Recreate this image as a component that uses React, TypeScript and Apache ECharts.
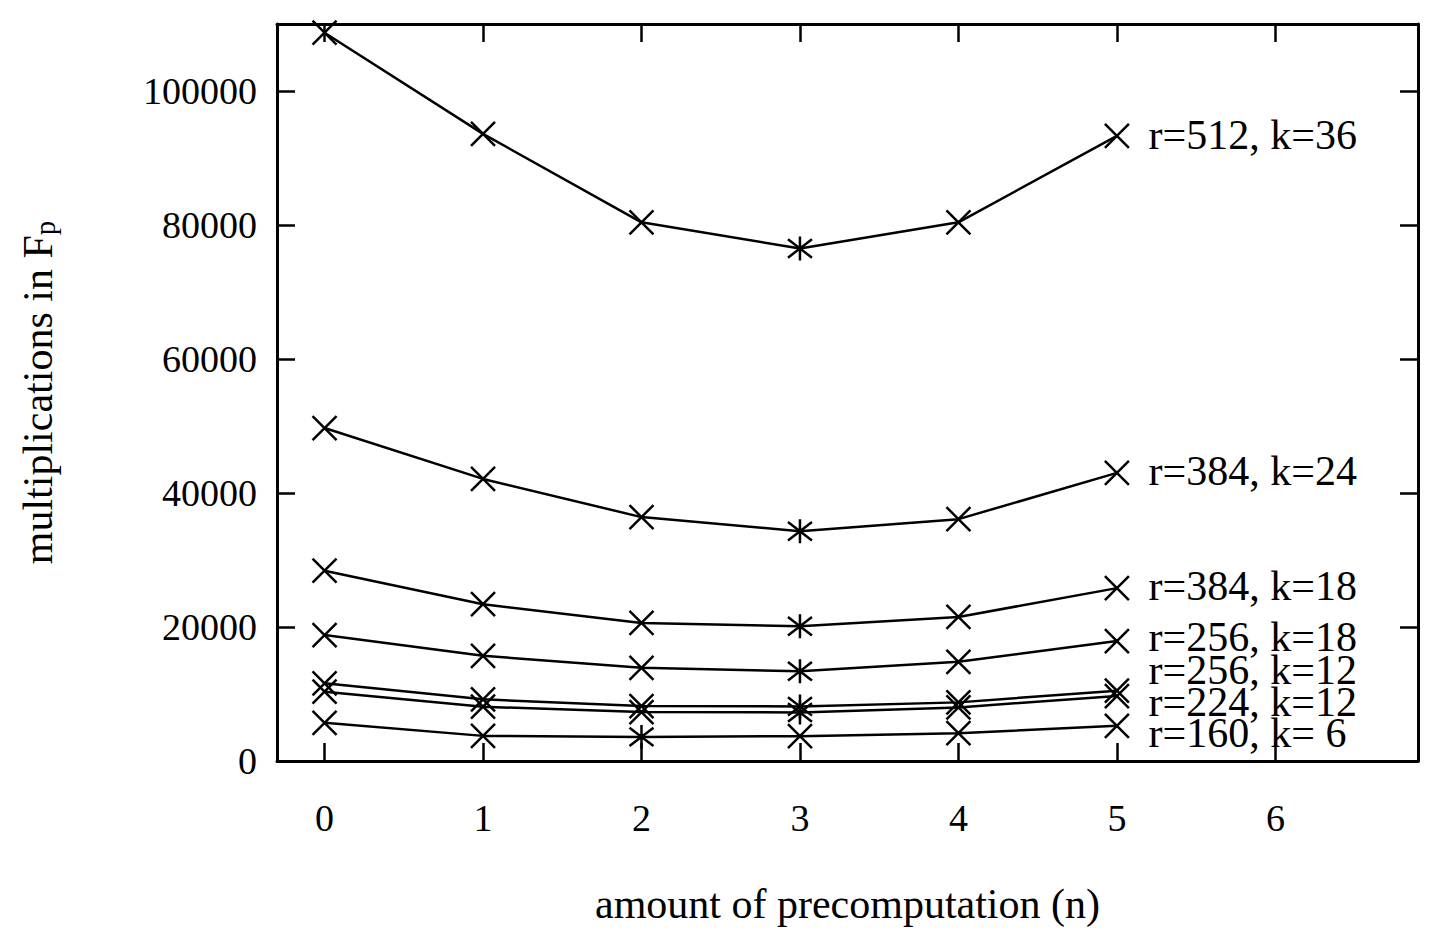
import React, { useEffect, useRef } from "react";
import * as echarts from "echarts";

const nValues = [0, 1, 2, 3, 4, 5];
const xTicks = [0, 1, 2, 3, 4, 5, 6];
const yTicks = [0, 20000, 40000, 60000, 80000, 100000];

const seriesNames = [
  "r=512, k=36",
  "r=384, k=24",
  "r=384, k=18",
  "r=256, k=18",
  "r=256, k=12",
  "r=224, k=12",
  "r=160, k= 6",
];
const r512k36 = [108700, 93600, 80400, 76500, 80400, 93300];
const r384k24 = [49700, 42100, 36400, 34300, 36100, 43000];
const r384k18 = [28400, 23400, 20600, 20100, 21500, 25800];
const r256k18 = [18800, 15700, 13900, 13400, 14800, 17900];
const r256k12 = [11600, 9200, 8200, 8150, 8750, 10500];
const r224k12 = [10350, 8100, 7300, 7250, 8000, 9700];
const r160k6 = [5700, 3750, 3600, 3700, 4150, 5250];
const allSeries = [r512k36, r384k24, r384k18, r256k18, r256k12, r224k12, r160k6];

// label anchor positions (layout, in data units)
const labelX = 5.2;
const labelY = [93400, 43300, 26100, 18500, 13600, 8800, 4200];

const FONT = "'Liberation Serif', 'Times New Roman', serif";
const FS = 38;
const FS_BIG = 42;
const CROSS = "path://M0,0L10,10M10,0L0,10";
const STAR = "path://M0,0L10,10M10,0L0,10M5,-1.5L5,11.5";

export default function App() {
  const ref = useRef<HTMLDivElement>(null);
  useEffect(() => {
    if (!ref.current) return;
    const chart = echarts.init(ref.current, null, { renderer: "svg" });
    const axisLine = { show: true, onZero: false, lineStyle: { color: "#000", width: 3 } };
    const tick = { show: true, inside: true, length: 18, lineStyle: { color: "#000", width: 2.5 } };
    const series = allSeries.map((vals, si) => {
      const minIdx = vals.indexOf(Math.min(...vals));
      return {
        type: "line",
        name: seriesNames[si],
        data: vals.map((v, i) => [nValues[i], v]),
        symbol: (_v: any, p: any) => (p.dataIndex === minIdx ? STAR : CROSS),
        symbolSize: 24,
        showAllSymbol: true,
        lineStyle: { color: "#000", width: 2.5 },
        itemStyle: { color: "#000", borderColor: "#000", borderWidth: 2.5 },
        z: 3,
      };
    });
    const option: any = {
      animation: false,
      backgroundColor: "#fff",
      grid: { left: 277, right: 16, top: 24, bottom: 175, containLabel: false },
      xAxis: [
        {
          type: "value",
          min: -0.3,
          max: 6.9,
          position: "bottom",
          axisLine,
          axisTick: { ...tick, customValues: xTicks },
          axisLabel: {
            customValues: xTicks,
            margin: 38,
            color: "#000",
            fontFamily: FONT,
            fontSize: FS,
            formatter: (v: number) => String(v),
          },
          splitLine: { show: false },
          name: "amount of precomputation (n)",
          nameLocation: "middle",
          nameGap: 122,
          nameTextStyle: { color: "#000", fontFamily: FONT, fontSize: FS_BIG },
        },
        {
          type: "value",
          min: -0.3,
          max: 6.9,
          position: "top",
          axisLine,
          axisTick: { ...tick, customValues: xTicks },
          axisLabel: { show: false },
          splitLine: { show: false },
        },
      ],
      yAxis: [
        {
          type: "value",
          min: 0,
          max: 110000,
          position: "left",
          axisLine,
          axisTick: { ...tick, customValues: yTicks },
          axisLabel: {
            customValues: yTicks,
            margin: 20,
            color: "#000",
            fontFamily: FONT,
            fontSize: FS,
            formatter: (v: number) => String(v),
          },
          splitLine: { show: false },
          name: "{a|multiplications in F}{sub|p}",
          nameLocation: "middle",
          nameGap: 218,
          nameTextStyle: {
            color: "#000",
            fontFamily: FONT,
            fontSize: FS_BIG,
            rich: {
              a: { fontFamily: FONT, fontSize: FS_BIG, color: "#000", verticalAlign: "bottom", lineHeight: 46 },
              sub: { fontFamily: FONT, fontSize: 29, color: "#000", verticalAlign: "bottom", lineHeight: 38 },
            },
          },
        },
        {
          type: "value",
          min: 0,
          max: 110000,
          position: "right",
          axisLine,
          axisTick: { ...tick, customValues: yTicks },
          axisLabel: { show: false },
          splitLine: { show: false },
        },
      ],
      series,
    };
    chart.setOption(option);
    const graphics = seriesNames.map((t, i) => {
      const [px, py] = chart.convertToPixel({ seriesIndex: 0 }, [labelX, labelY[i]]);
      return {
        type: "text",
        x: px,
        y: py,
        z: 10,
        style: {
          text: t,
          fill: "#000",
          fontFamily: FONT,
          fontSize: FS_BIG,
          lineHeight: 30,
          align: "left",
          verticalAlign: "middle",
        },
      };
    });
    chart.setOption({ graphic: graphics });
    return () => chart.dispose();
  }, []);
  return (
    <div
      ref={ref}
      style={{ position: "fixed", left: 0, top: 0, width: 1434, height: 936, background: "#fff" }}
    />
  );
}
